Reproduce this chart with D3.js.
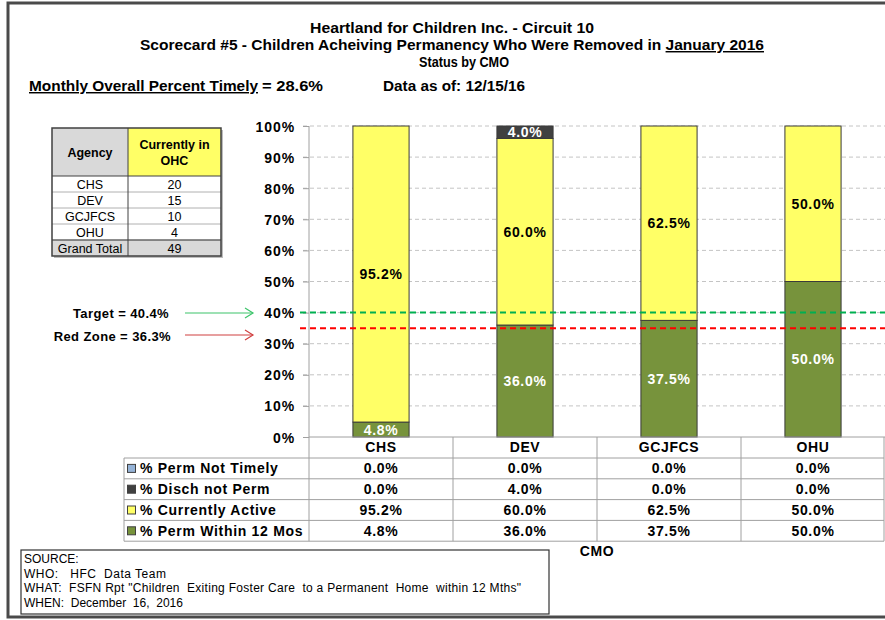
<!DOCTYPE html>
<html>
<head>
<meta charset="utf-8">
<script src="https://cdn.jsdelivr.net/npm/d3@7"></script>
<style>
  body { margin: 0; background: #fff; }
  svg text { font-family: "Liberation Sans", Arial, sans-serif; }
</style>
</head>
<body>
<script>
// chart values
var categories = ["CHS", "DEV", "GCJFCS", "OHU"];
var permNotTimely = [0.0, 0.0, 0.0, 0.0];
var dischNotPerm = [0.0, 4.0, 0.0, 0.0];
var currentlyActive = [95.2, 60.0, 62.5, 50.0];
var permWithin12 = [4.8, 36.0, 37.5, 50.0];
var seriesNames = ["% Perm Within 12 Mos", "% Currently Active", "% Disch not Perm", "% Perm Not Timely"];
var yTicks = [0, 10, 20, 30, 40, 50, 60, 70, 80, 90, 100];
var targetLine = 40;
var redZoneLine = 35;

// agency table values
var agencies = ["CHS", "DEV", "GCJFCS", "OHU"];
var ohcCounts = [20, 15, 10, 4];

var sourceLines = [
  "SOURCE:",
  "WHO:   HFC  Data Team",
  "WHAT:  FSFN Rpt \"Children  Exiting Foster Care  to a Permanent  Home  within 12 Mths\"",
  "WHEN:  December  16,  2016"
];
var sourceWidths = [null, 142, 497, 159];

var W = 885, H = 620;
var colors = ["#77933c", "#ffff66", "#404040", "#95b3d7"];
var labelColors = ["#fff", "#000", "#fff", "#000"];

var svg = d3.select("body").append("svg")
  .attr("width", W).attr("height", H);

// outer frame
svg.append("rect")
  .attr("x", 8).attr("y", 3).attr("width", 900).attr("height", 614)
  .attr("fill", "none").attr("stroke", "#4a4a4a").attr("stroke-width", 3);

// titles
var tx = 452;
svg.append("text").attr("x", tx).attr("y", 33).attr("text-anchor", "middle")
  .attr("font-weight", "bold").attr("font-size", 14.5)
  .attr("textLength", 284).attr("lengthAdjust", "spacingAndGlyphs")
  .text("Heartland for Children Inc. - Circuit 10");
var t2 = svg.append("text").attr("x", tx).attr("y", 50).attr("text-anchor", "middle")
  .attr("font-weight", "bold").attr("font-size", 14.5)
  .attr("textLength", 624).attr("lengthAdjust", "spacingAndGlyphs");
t2.append("tspan").text("Scorecard #5 - Children Acheiving Permanency Who Were Removed in ");
t2.append("tspan").attr("text-decoration", "underline").text("January 2016");
svg.append("text").attr("x", 464).attr("y", 67).attr("text-anchor", "middle")
  .attr("font-weight", "bold").attr("font-size", 15)
  .attr("textLength", 90).attr("lengthAdjust", "spacingAndGlyphs")
  .text("Status by CMO");

svg.append("text").attr("x", 29).attr("y", 91)
  .attr("font-weight", "bold").attr("font-size", 14.5)
  .attr("text-decoration", "underline")
  .attr("textLength", 229).attr("lengthAdjust", "spacingAndGlyphs")
  .text("Monthly Overall Percent Timely");
svg.append("text").attr("x", 262).attr("y", 91)
  .attr("font-weight", "bold").attr("font-size", 14.5)
  .attr("textLength", 61).attr("lengthAdjust", "spacingAndGlyphs")
  .text("=  28.6%");
svg.append("text").attr("x", 383).attr("y", 91)
  .attr("font-weight", "bold").attr("font-size", 14.5)
  .attr("textLength", 142).attr("lengthAdjust", "spacingAndGlyphs")
  .text("Data as of: 12/15/16");

// scales
var x = d3.scaleBand().domain(categories).range([309, 885])
  .paddingInner(0.61).paddingOuter(0.305);
var xCol = d3.scaleBand().domain(categories).range([309, 885]);
var y = d3.scaleLinear().domain([0, 100]).range([437, 126]);

// gridlines
svg.append("g").selectAll("line").data(yTicks.slice(1)).enter().append("line")
  .attr("x1", 303).attr("x2", 885)
  .attr("y1", function(d) { return y(d); }).attr("y2", function(d) { return y(d); })
  .attr("stroke", "#c4c4c4").attr("stroke-dasharray", "4,3");

// y axis
var yAxis = d3.axisLeft(y).tickValues(yTicks).tickSize(6)
  .tickFormat(function(d) { return d + "%"; });
var gy = svg.append("g").attr("transform", "translate(309,0)").call(yAxis);
gy.select(".domain").remove();
gy.selectAll(".tick line").attr("stroke", "#a0a0a0");
gy.selectAll(".tick text")
  .attr("font-family", "Liberation Sans, Arial, sans-serif")
  .attr("font-size", 14).attr("font-weight", "bold")
  .attr("letter-spacing", 0.9).attr("fill", "#000").attr("dx", -5).attr("dy", "0.36em");

// stacked bars
var rows = categories.map(function(c, i) {
  return { cat: c, s0: permWithin12[i], s1: currentlyActive[i], s2: dischNotPerm[i], s3: permNotTimely[i] };
});
var stacked = d3.stack().keys(["s0", "s1", "s2", "s3"])(rows);

var layers = svg.append("g").selectAll("g").data(stacked).enter().append("g")
  .attr("fill", function(d, i) { return colors[i]; });
layers.selectAll("rect").data(function(d) { return d; }).enter().append("rect")
  .filter(function(d) { return d[1] - d[0] > 0; })
  .attr("x", function(d) { return x(d.data.cat); })
  .attr("width", x.bandwidth())
  .attr("y", function(d) { return y(d[1]); })
  .attr("height", function(d) { return y(d[0]) - y(d[1]); })
  .attr("stroke", "#3a3a3a").attr("stroke-width", 1);

// bar labels
stacked.forEach(function(layer, li) {
  svg.append("g").selectAll("text")
    .data(layer.filter(function(d) { return d[1] - d[0] > 0; }))
    .enter().append("text")
    .attr("x", function(d) { return x(d.data.cat) + x.bandwidth() / 2; })
    .attr("y", function(d) { return (y(d[0]) + y(d[1])) / 2 + 5; })
    .attr("text-anchor", "middle")
    .attr("font-size", 14).attr("font-weight", "bold").attr("letter-spacing", 0.7)
    .attr("fill", labelColors[li])
    .text(function(d) { return (d[1] - d[0]).toFixed(1) + "%"; });
});

// target + red zone lines
svg.append("line").attr("x1", 300).attr("x2", 885)
  .attr("y1", y(targetLine)).attr("y2", y(targetLine))
  .attr("stroke", "#00b050").attr("stroke-width", 2).attr("stroke-dasharray", "6,4");
svg.append("line").attr("x1", 300).attr("x2", 885)
  .attr("y1", y(redZoneLine)).attr("y2", y(redZoneLine))
  .attr("stroke", "#ff0000").attr("stroke-width", 2).attr("stroke-dasharray", "6,4");

svg.append("text").attr("x", 169).attr("y", 318).attr("text-anchor", "end")
  .attr("font-size", 13).attr("font-weight", "bold").attr("letter-spacing", 0.4)
  .text("Target = 40.4%");
svg.append("text").attr("x", 171).attr("y", 341).attr("text-anchor", "end")
  .attr("font-size", 13).attr("font-weight", "bold").attr("letter-spacing", 0.4)
  .text("Red Zone = 36.3%");

function arrow(yy, col) {
  svg.append("line").attr("x1", 185).attr("x2", 253).attr("y1", yy).attr("y2", yy)
    .attr("stroke", col).attr("stroke-width", 1.2);
  svg.append("path").attr("d", "M245," + (yy - 5) + " L253," + yy + " L245," + (yy + 5))
    .attr("fill", "none").attr("stroke", col).attr("stroke-width", 1.2);
}
arrow(313, "#3cc46a");
arrow(335, "#d04040");

// axis baseline
svg.append("line").attr("x1", 309).attr("x2", 885).attr("y1", 437).attr("y2", 437)
  .attr("stroke", "#a0a0a0");

// data table
var rowTop = 458, rowH = 20.8;
var tableRows = [
  { name: seriesNames[3], vals: permNotTimely, col: colors[3] },
  { name: seriesNames[2], vals: dischNotPerm, col: colors[2] },
  { name: seriesNames[1], vals: currentlyActive, col: colors[1] },
  { name: seriesNames[0], vals: permWithin12, col: colors[0] }
];
var tableBottom = rowTop + rowH * tableRows.length;
var grid = svg.append("g").attr("stroke", "#a0a0a0").attr("stroke-width", 1);
for (var r = 0; r <= tableRows.length; r++) {
  grid.append("line").attr("x1", 124).attr("x2", 884)
    .attr("y1", rowTop + r * rowH).attr("y2", rowTop + r * rowH);
}
grid.append("line").attr("x1", 124).attr("x2", 124).attr("y1", rowTop).attr("y2", tableBottom);
categories.forEach(function(c) {
  grid.append("line").attr("x1", xCol(c)).attr("x2", xCol(c)).attr("y1", 437).attr("y2", tableBottom);
});
grid.append("line").attr("x1", 884).attr("x2", 884).attr("y1", 437).attr("y2", tableBottom);
grid.append("line").attr("x1", 309).attr("x2", 309).attr("y1", 126).attr("y2", 437);

svg.append("g").selectAll("text").data(categories).enter().append("text")
  .attr("x", function(d) { return xCol(d) + xCol.bandwidth() / 2; })
  .attr("y", 452).attr("text-anchor", "middle")
  .attr("font-size", 14).attr("font-weight", "bold").attr("letter-spacing", 0.6)
  .text(function(d) { return d; });

tableRows.forEach(function(row, ri) {
  var cy = rowTop + ri * rowH + rowH / 2;
  svg.append("rect").attr("x", 127.5).attr("y", cy - 4).attr("width", 8).attr("height", 8)
    .attr("fill", row.col).attr("stroke", "#404040").attr("stroke-width", 1);
  svg.append("text").attr("x", 140).attr("y", cy + 5)
    .attr("font-size", 14).attr("font-weight", "bold").attr("letter-spacing", 0.7)
    .text(row.name);
  svg.append("g").selectAll("text").data(row.vals).enter().append("text")
    .attr("x", function(d, i) { return xCol(categories[i]) + xCol.bandwidth() / 2; })
    .attr("y", cy + 5).attr("text-anchor", "middle")
    .attr("font-size", 14).attr("font-weight", "bold").attr("letter-spacing", 0.7)
    .text(function(d) { return d.toFixed(1) + "%"; });
});

svg.append("text").attr("x", 597).attr("y", 556).attr("text-anchor", "middle")
  .attr("font-size", 14).attr("font-weight", "bold").attr("letter-spacing", 0.6)
  .text("CMO");

// agency table
var at = svg.append("g");
var ax0 = 52, ax1 = 128, ax2 = 221, ay0 = 128, ahead = 48, arow = 16;
at.append("rect").attr("x", ax0 + 2).attr("y", ay0 + 2).attr("width", ax2 - ax0)
  .attr("height", ahead + arow * (agencies.length + 1)).attr("fill", "#bdbdbd");
at.append("rect").attr("x", ax0).attr("y", ay0).attr("width", ax1 - ax0).attr("height", ahead)
  .attr("fill", "#d9d9d9");
at.append("rect").attr("x", ax1).attr("y", ay0).attr("width", ax2 - ax1).attr("height", ahead)
  .attr("fill", "#ffff66");
at.append("rect").attr("x", ax0).attr("y", ay0 + ahead).attr("width", ax2 - ax0)
  .attr("height", arow * agencies.length).attr("fill", "#fff");
at.append("rect").attr("x", ax0).attr("y", ay0 + ahead + arow * agencies.length)
  .attr("width", ax2 - ax0).attr("height", arow).attr("fill", "#d9d9d9");
for (var k = 1; k <= agencies.length + 1; k++) {
  var ly = ay0 + ahead + (k - 1) * arow;
  at.append("line").attr("x1", ax0).attr("x2", ax2).attr("y1", ly).attr("y2", ly)
    .attr("stroke", k == 1 ? "#404040" : "#b0b0b0");
}
at.append("line").attr("x1", ax1).attr("x2", ax1).attr("y1", ay0)
  .attr("y2", ay0 + ahead + arow * (agencies.length + 1)).attr("stroke", "#404040");
at.append("line").attr("x1", ax0).attr("x2", ax2)
  .attr("y1", ay0 + ahead + arow * agencies.length).attr("y2", ay0 + ahead + arow * agencies.length)
  .attr("stroke", "#404040");
at.append("rect").attr("x", ax0).attr("y", ay0).attr("width", ax2 - ax0)
  .attr("height", ahead + arow * (agencies.length + 1))
  .attr("fill", "none").attr("stroke", "#404040").attr("stroke-width", 1.5);

at.append("text").attr("x", (ax0 + ax1) / 2).attr("y", ay0 + 29).attr("text-anchor", "middle")
  .attr("font-size", 12.5).attr("font-weight", "bold").text("Agency");
at.append("text").attr("x", (ax1 + ax2) / 2).attr("y", ay0 + 21).attr("text-anchor", "middle")
  .attr("font-size", 12.5).attr("font-weight", "bold").text("Currently in");
at.append("text").attr("x", (ax1 + ax2) / 2).attr("y", ay0 + 37).attr("text-anchor", "middle")
  .attr("font-size", 12.5).attr("font-weight", "bold").text("OHC");

var agRows = agencies.concat(["Grand Total"]);
var agVals = ohcCounts.concat([d3.sum(ohcCounts)]);
agRows.forEach(function(a, i) {
  var by = ay0 + ahead + i * arow + 12.5;
  at.append("text").attr("x", (ax0 + ax1) / 2).attr("y", by).attr("text-anchor", "middle")
    .attr("font-size", 12.5).text(a);
  at.append("text").attr("x", (ax1 + ax2) / 2).attr("y", by).attr("text-anchor", "middle")
    .attr("font-size", 12.5).text(agVals[i]);
});

// source box
svg.append("rect").attr("x", 21).attr("y", 550).attr("width", 528).attr("height", 64)
  .attr("fill", "none").attr("stroke", "#333").attr("stroke-width", 1.2);
svg.append("g").selectAll("text").data(sourceLines).enter().append("text")
  .attr("x", 24).attr("y", function(d, i) { return 563 + i * 14.5; })
  .attr("font-size", 12)
  .attr("textLength", function(d, i) { return sourceWidths[i]; })
  .attr("lengthAdjust", "spacing")
  .attr("xml:space", "preserve")
  .style("white-space", "pre")
  .text(function(d) { return d; });
</script>
</body>
</html>
